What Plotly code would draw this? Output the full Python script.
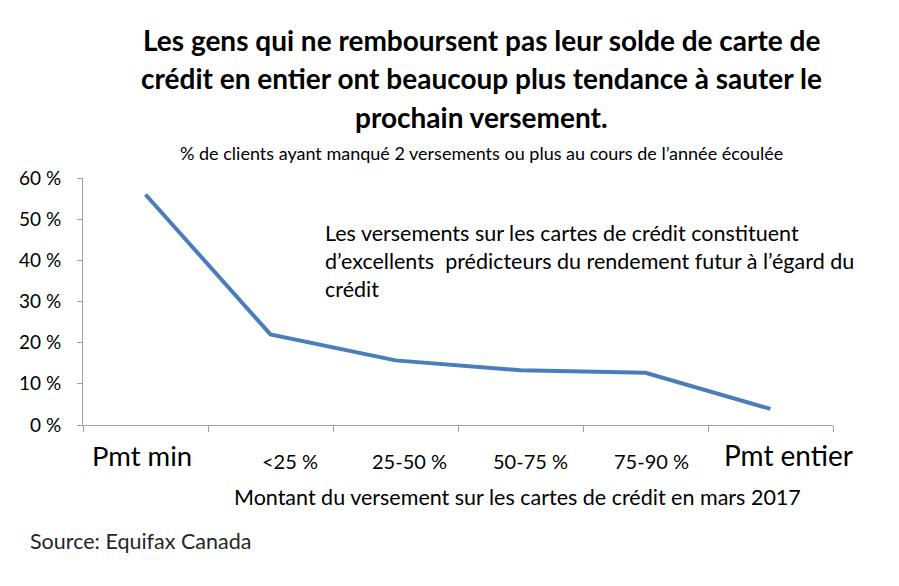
import plotly.graph_objects as go

categories = ['Pmt min', '<25 %', '25-50 %', '50-75 %', '75-90 %', 'Pmt entier']
valeurs = [56, 22, 15.7, 13.3, 12.7, 3.9]
yticks = [0, 10, 20, 30, 40, 50, 60]

titre = ['Les gens qui ne remboursent pas leur solde de carte de',
         'crédit en entier ont beaucoup plus tendance à sauter le',
         'prochain versement.']

police = 'Lato'

fig = go.Figure()
fig.add_trace(go.Scatter(x=categories, y=valeurs, mode='lines',
                         line=dict(color='#4A7EBB', width=4), showlegend=False))

# étiquettes des catégories (tailles différentes comme dans l'original)
tailles = [27.5, 20, 20, 20, 20, 28]
decalages = [-3.5, 19, 13.5, 9.5, 5.5, 17.5]
for cat, t, d in zip(categories, tailles, decalages):
    fig.add_annotation(x=cat, y=0, xref='x', yref='y', text=cat, showarrow=False,
                       yanchor='middle', xshift=d, yshift=-30 if t > 25 else -36,
                       font=dict(family=police, size=t, color='black'))

fig.add_annotation(x=0.58, y=-0.2915, xref='paper', yref='paper', yanchor='middle',
                   text='Montant du versement sur les cartes de crédit en mars 2017',
                   showarrow=False, font=dict(family=police, size=21.5, color='black'))

for ligne, yy in zip(titre, [1.559, 1.405, 1.247]):
    fig.add_annotation(x=0.531, y=yy, xref='paper', yref='paper', yanchor='middle',
                       text='<b>' + ligne + '</b>', showarrow=False,
                       font=dict(family=police, size=28, color='black'))

fig.add_annotation(x=0.531, y=1.101, xref='paper', yref='paper', yanchor='middle',
                   text="% de clients ayant manqué 2 versements ou plus au cours de l’année écoulée",
                   showarrow=False, font=dict(family=police, size=18, color='black'))

fig.add_annotation(x=0.32, y=0.664, xref='paper', yref='paper', xanchor='left', yanchor='middle',
                   text='Les versements sur les cartes de crédit constituent<br>'
                        'd’excellents  prédicteurs du rendement futur à l’égard du<br>'
                        'crédit',
                   align='left', showarrow=False,
                   font=dict(family=police, size=21.5, color='black'))

fig.add_annotation(x=-0.0733, y=-0.47, xref='paper', yref='paper', xanchor='left', yanchor='middle',
                   text='Source: Equifax Canada', showarrow=False,
                   font=dict(family=police, size=21.5, color='#262626'))

fig.update_xaxes(type='category', range=[-0.5, 5.5], showticklabels=False,
                 ticks='outside', tickson='boundaries', ticklen=6, tickcolor='#A0A0A0',
                 showline=True, linecolor='#A0A0A0', linewidth=1, showgrid=False, zeroline=False)
fig.update_yaxes(range=[0, 60], tickvals=yticks, ticktext=[f'{v} %' for v in yticks],
                 ticks='outside', ticklen=5, tickcolor='#A0A0A0', ticklabelstandoff=12,
                 showline=True, linecolor='#A0A0A0', linewidth=1, showgrid=False, zeroline=False,
                 tickfont=dict(family=police, size=19, color='black'))

# la page html ajoute 8 px de marge au corps : on compense ici
fig.update_layout(width=899, height=586, plot_bgcolor='white', paper_bgcolor='white',
                  margin=dict(l=75, r=74, t=170, b=169, autoexpand=False), showlegend=False)
fig.write_html('out.html')
